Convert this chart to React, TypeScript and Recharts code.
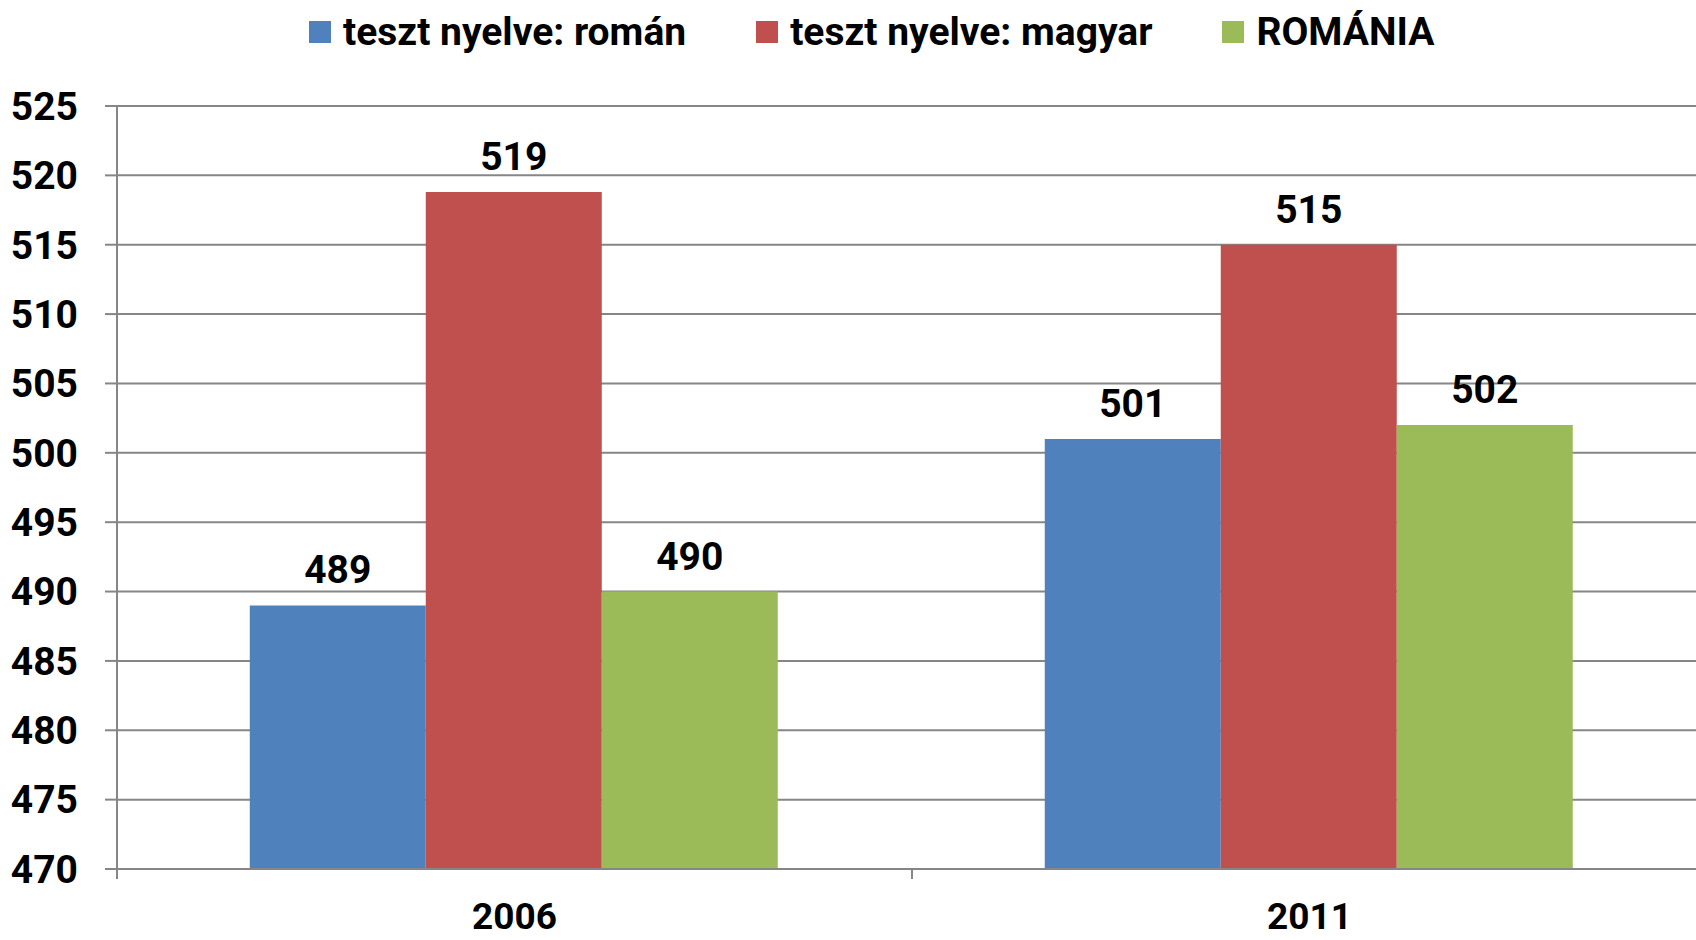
import React from 'react';
import { BarChart, Bar, XAxis, YAxis, CartesianGrid, LabelList } from 'recharts';

const categories = ['2006', '2011'];
const romanValues = [489, 501];
const magyarValues = [518.8, 515];
const romaniaValues = [490, 502];
const seriesNames = ['teszt nyelve: román', 'teszt nyelve: magyar', 'ROMÁNIA'];
const seriesKeys = ['roman', 'magyar', 'romania'];
const seriesColors = ['#4F81BD', '#C0504D', '#9BBB59'];
const yTicks = [470, 475, 480, 485, 490, 495, 500, 505, 510, 515, 520, 525];

const data = categories.map((c, i) => ({
  year: c,
  roman: romanValues[i],
  magyar: magyarValues[i],
  romania: romaniaValues[i],
}));

const FONT = "Roboto, 'DejaVu Sans', sans-serif";
const GRID = '#868686';

const XTick = (props: any) => {
  const { x, y, payload, index } = props;
  const off = payload && payload.offset ? payload.offset : 0;
  const axisY = y - 34;
  return (
    <g>
      <line x1={x - off} x2={x - off} y1={axisY} y2={axisY + 10} stroke={GRID} strokeWidth={2} />
      {index === categories.length - 1 && (
        <line x1={x + off} x2={x + off} y1={axisY} y2={axisY + 10} stroke={GRID} strokeWidth={2} />
      )}
      <text x={x} y={y} dy="0.71em" textAnchor="middle" fill="#000" fontSize={37} fontWeight="bold" fontFamily={FONT}>
        {payload.value}
      </text>
    </g>
  );
};

export default function App() {
  return (
    <div style={{ position: 'fixed', left: 0, top: 0, width: 1696, height: 940, overflow: 'hidden', background: '#fff' }}>
      <div
        style={{
          position: 'absolute',
          left: 309,
          top: 10,
          height: 44,
          display: 'flex',
          alignItems: 'center',
          fontFamily: FONT,
          fontWeight: 'bold',
          fontSize: 39,
          color: '#000',
          whiteSpace: 'nowrap',
        }}
      >
        {seriesNames.map((n, i) => (
          <div key={n} style={{ display: 'flex', alignItems: 'center', marginRight: i < seriesNames.length - 1 ? 70 : 0 }}>
            <div style={{ width: 22, height: 22, background: seriesColors[i], marginRight: 12 }} />
            <span>{n}</span>
          </div>
        ))}
      </div>
      <BarChart
        width={1710}
        height={940}
        data={data}
        margin={{ top: 106, right: 3, left: 0, bottom: 0 }}
        barCategoryGap="16.7%"
        barGap={0}
      >
        <CartesianGrid vertical={false} stroke={GRID} strokeWidth={2} />
        <YAxis
          domain={[470, 525]}
          ticks={yTicks}
          interval={0}
          width={117}
          allowDataOverflow
          axisLine={{ stroke: GRID, strokeWidth: 2 }}
          tickLine={{ stroke: GRID, strokeWidth: 2 }}
          tickSize={12}
          tickMargin={27}
          tick={{ fill: '#000', fontSize: 39, fontWeight: 'bold', fontFamily: FONT }}
        />
        <XAxis
          dataKey="year"
          height={71}
          axisLine={{ stroke: GRID, strokeWidth: 2 }}
          tickLine={false}
          tickSize={10}
          tickMargin={24}
          interval={0}
          tick={<XTick />}
        />
        {seriesKeys.map((k, i) => (
          <Bar key={k} dataKey={k} name={seriesNames[i]} fill={seriesColors[i]} isAnimationActive={false}>
            <LabelList
              dataKey={k}
              position="top"
              offset={22}
              formatter={(v: any) => Math.round(Number(v))}
              fill="#000"
              fontSize={39}
              fontWeight="bold"
              fontFamily={FONT}
            />
          </Bar>
        ))}
      </BarChart>
    </div>
  );
}
